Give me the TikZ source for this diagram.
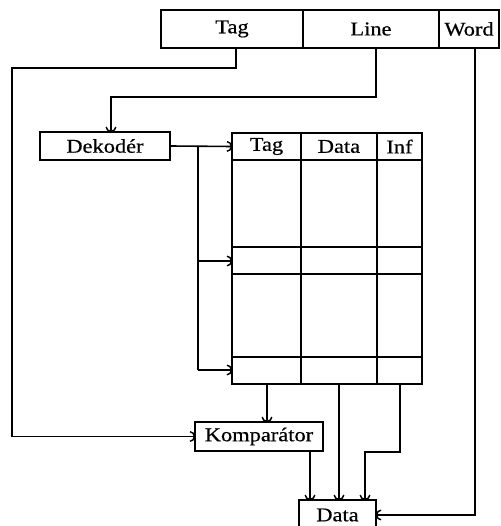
\documentclass[tikz,border=0pt]{standalone}
\usepackage{fontspec}
\setmainfont{Liberation Serif}[FakeStretch=1.15,FakeBold=0.6]
\usetikzlibrary{arrows.meta}
\begin{document}
\begin{tikzpicture}[x=1pt,y=-1pt,
  box/.style={draw,line width=1.6pt,inner sep=0pt,outer sep=0pt,font=\fontsize{19.5}{19.5}\selectfont},
  conn/.style={line width=1.6pt},
  arr/.style={conn,-{Arc Barb[length=5pt,width=11pt,line width=1.4pt]}}]
\useasboundingbox (0,0) rectangle (500,526);
% register
\node[box,minimum width=142pt,minimum height=38pt] (tag) at (232,29) {Tag};
\node[box,minimum width=136pt,minimum height=38pt] (line) at (371,29) {Line};
\node[box,minimum width=60pt,minimum height=38pt] (word) at (469,29) {Word};
% decoder
\node[box,minimum width=130pt,minimum height=28pt] (dek) at (105,146) {Dekodér};
% table
\node[box,minimum width=69pt,minimum height=27pt] (tagH) at (266.5,146.5) {Tag};
\node[box,minimum width=76pt,minimum height=27pt] (dataH) at (339,146.5) {Data};
\node[box,minimum width=45pt,minimum height=27pt] (infH) at (399.5,146.5) {Inf};
\node[box,minimum width=190pt,minimum height=224pt] (tab) at (327,272) {};
\draw[conn] (301,160) -- (301,384) (377,160) -- (377,384);
\draw[conn] (232,247) -- (422,247) (232,274) -- (422,274)
            (232,357) -- (422,357);
\coordinate (row1) at (232,261);
\coordinate (row2) at (232,370);
% comparator, data
\node[box,minimum width=128pt,minimum height=29pt] (komp) at (259,436.5) {Komparátor};
\node[box,minimum width=77pt,minimum height=30pt] (data) at (337.5,515) {Data};
% connectors from register
\draw[arr] ([xshift=4pt]tag.south) |- (12,68) |- (komp.west);
\draw[arr] ([xshift=5pt]line.south) |- (111,97) -- (dek.north -| 111,0);
\draw[arr] ([xshift=6pt]word.south) |- (data.east);
% decoder outputs
\draw[arr] (dek.east) -- (tagH.west);
\coordinate (br) at (198,146);
\draw[conn] (br) -- (198,370);
\draw[arr] (198,261) -- (row1);
\draw[arr] (198,370) -- (row2);
% table outputs
\draw[arr] (tab.south -| 267,0) -- (komp.north -| 267,0);
\draw[arr] (tab.south -| 339,0) -- (data.north -| 339,0);
\draw[arr] (tab.south -| 400,0) |- (365,452) -- (data.north -| 365,0);
\draw[arr] (komp.south -| 310,0) -- (data.north -| 310,0);
\end{tikzpicture}
\end{document}
